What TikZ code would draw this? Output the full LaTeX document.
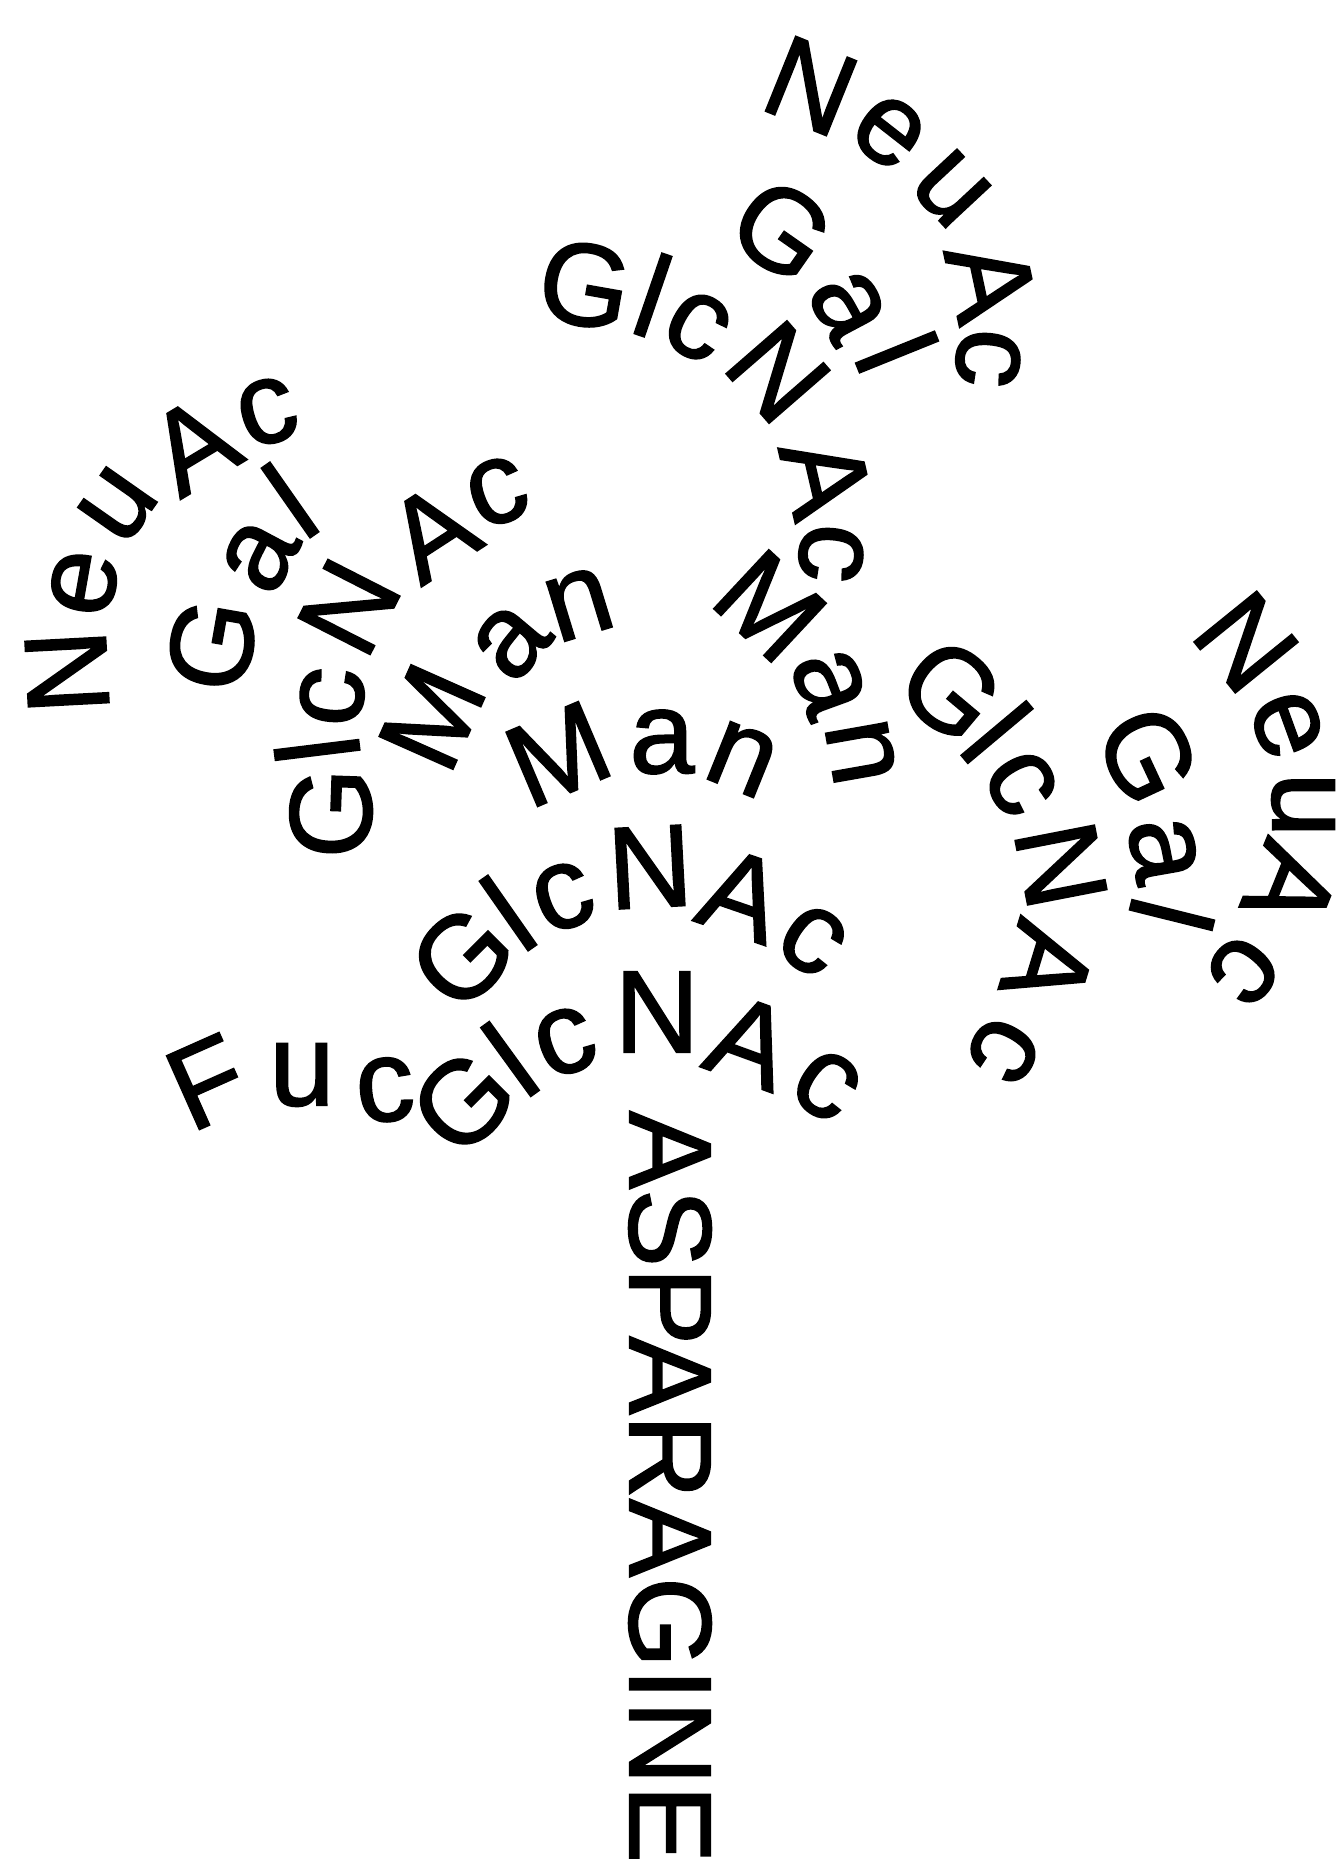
\documentclass[tikz,border=0pt]{standalone}
\usepackage{fontspec}
\setmainfont{Liberation Sans}
\newfontfamily\heavysans{Liberation Sans}[FakeBold=1.5]
\tikzset{glyph/.style={inner sep=0pt, outer sep=0pt, font=\heavysans\fontsize{117}{120}\selectfont}}
\newcommand\glyphat[5]{\node[glyph, rotate=#4] (#1) at (#2,#3) {#5};}
\begin{document}
\begin{tikzpicture}[x=1pt,y=-1pt]
\fill[white] (0,0) rectangle (1341,1865);
\useasboundingbox (0,0) rectangle (1341,1865);
% top NeuAc
\glyphat{tN}{811}{86}{-22}{N}
\glyphat{te}{889}{132}{-38}{e}
\glyphat{tu}{951}{189}{-47}{u}
\glyphat{tA}{991}{281}{-78}{A}
\glyphat{tc}{988}{358}{-95}{c}
% top Gal
\glyphat{tG}{782}{230}{-35}{G}
\glyphat{ta}{848}{306}{-62}{a}
\glyphat{tl}{897}{352}{-68}{l}
% top GlcNAc
\glyphat{tGb}{585}{285}{-10}{G}
\glyphat{tlb}{653}{295}{-19}{l}
\glyphat{tcb}{697}{326}{-30}{c}
\glyphat{tNb}{778}{372}{-49}{N}
\glyphat{tAb}{826}{477}{-77}{A}
\glyphat{tcc}{831}{553}{-95}{c}
% top Man
\glyphat{tM}{770}{606}{-43}{M}
\glyphat{tab}{829}{683}{-70}{a}
\glyphat{tn}{861}{752}{-80}{n}
% left NeuAc
\glyphat{lN}{67}{672}{93}{N}
\glyphat{le}{84}{583}{80}{e}
\glyphat{lu}{118}{505}{55}{u}
\glyphat{lA}{193}{445}{31}{A}
\glyphat{lc}{267}{412}{17}{c}
% left Gal
\glyphat{lG}{212}{645}{80}{G}
\glyphat{la}{260}{556}{62}{a}
\glyphat{ll}{290}{500}{35}{l}
% left GlcNAc
\glyphat{lGb}{331}{813}{88}{G}
\glyphat{llb}{317}{750}{97}{l}
\glyphat{lcb}{332}{697}{85}{c}
\glyphat{lNb}{349}{607}{63}{N}
\glyphat{lAb}{432}{532}{33}{A}
\glyphat{lcc}{497}{492}{20}{c}
% left Man
\glyphat{lM}{432}{717}{66}{M}
\glyphat{lab}{511}{642}{50}{a}
\glyphat{ln}{579}{604}{17}{n}
% centre Man
\glyphat{cM}{558}{754}{23}{M}
\glyphat{ca}{662}{742}{0}{a}
\glyphat{cn}{742}{759}{-22}{n}
% upper GlcNAc
\glyphat{uG}{462}{957}{45}{G}
\glyphat{ul}{508}{913}{35}{l}
\glyphat{uc}{563}{897}{20}{c}
\glyphat{uN}{650}{867}{3}{N}
\glyphat{uA}{742}{895}{-19}{A}
\glyphat{ucb}{812}{940}{-35}{c}
% lower GlcNAc
\glyphat{wG}{463}{1102}{45}{G}
\glyphat{wl}{510}{1059}{36}{l}
\glyphat{wc}{565}{1042}{20}{c}
\glyphat{wN}{657}{1012}{0}{N}
\glyphat{wA}{750}{1042}{-20}{A}
\glyphat{wcb}{826}{1085}{-35}{c}
% Fuc
\glyphat{fF}{207}{1082}{24}{F}
\glyphat{fu}{302}{1075}{0}{u}
\glyphat{fc}{385}{1090}{5}{c}
% right GlcNAc
\glyphat{rG}{951}{690}{-40}{G}
\glyphat{rl}{997}{732}{-50}{l}
\glyphat{rc}{1021}{783}{-60}{c}
\glyphat{rN}{1061}{865}{-79}{N}
\glyphat{rA}{1048}{964}{-107}{A}
\glyphat{rcb}{1004}{1050}{-120}{c}
% right Gal
\glyphat{rGb}{1148}{755}{-65}{G}
\glyphat{ra}{1163}{850}{-80}{a}
\glyphat{rlb}{1172}{915}{-104}{l}
% right NeuAc
\glyphat{rNb}{1246}{642}{-51}{N}
\glyphat{re}{1287}{725}{-70}{e}
\glyphat{ru}{1303}{805}{-90}{u}
\glyphat{rAb}{1291}{886}{-112}{A}
\glyphat{rcc}{1244}{970}{-130}{c}
% ASPARAGINE
\node[glyph, rotate=-90] (asn) at (670,1487) {ASPARAGINE};
\end{tikzpicture}
\end{document}
